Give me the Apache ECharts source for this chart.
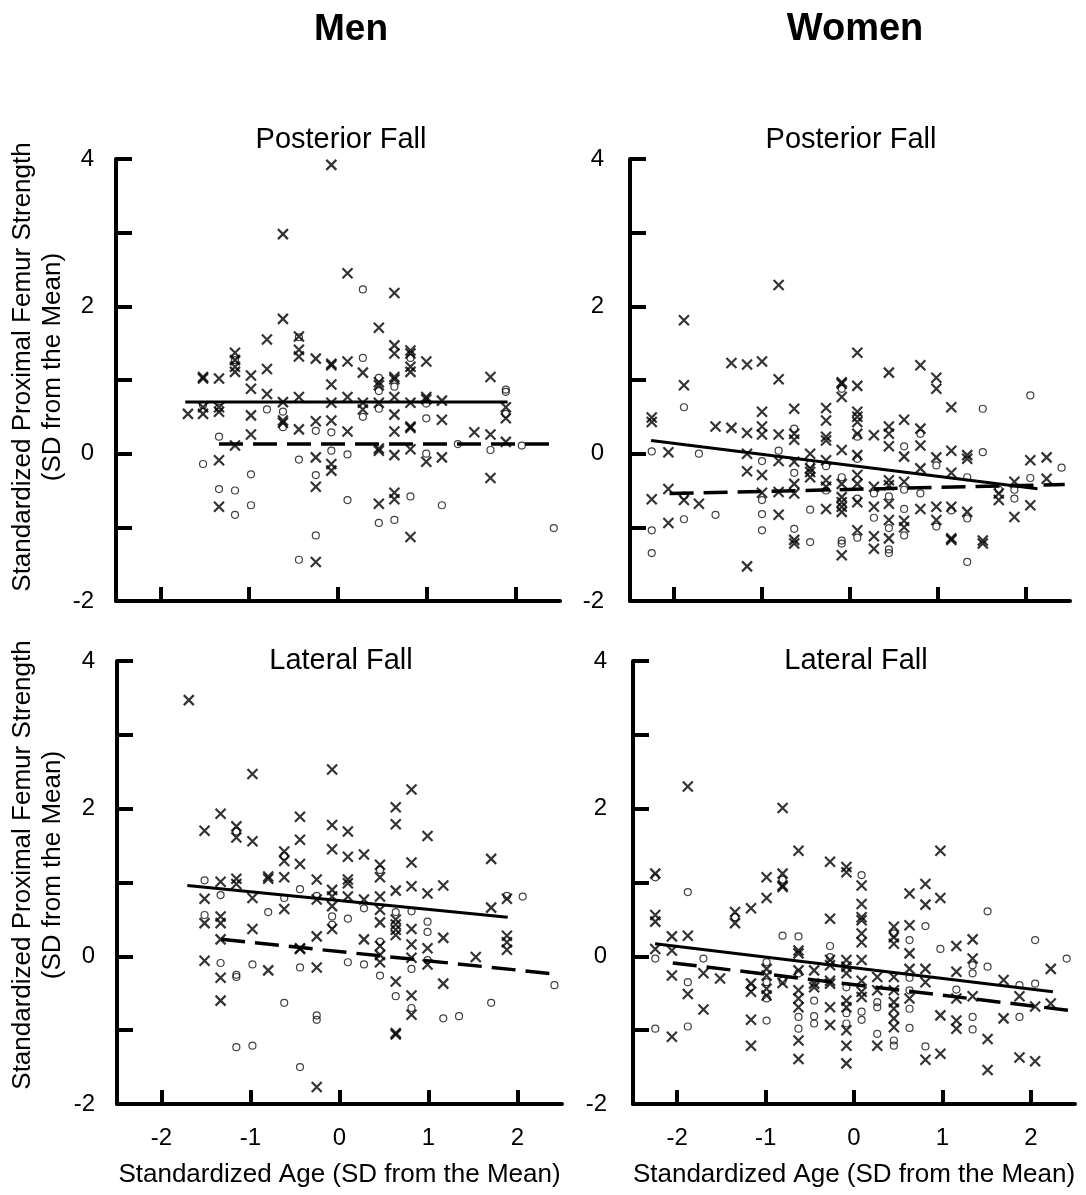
<!DOCTYPE html>
<html>
<head>
<meta charset="utf-8">
<script src="https://cdn.jsdelivr.net/npm/echarts@6/dist/echarts.min.js"></script>
<style>
  html, body { margin: 0; padding: 0; background: #fff; }
  #chart { width: 1086px; height: 1195px; }
</style>
</head>
<body>
<div id="chart"></div>
<script>
// ticks / labels
var xTicks = [-2, -1, 0, 1, 2]
var yTicks = [-2, -1, 0, 1, 2, 3, 4]
var yLabels = [-2, 0, 2, 4]

// points, one entry per age column: [x, [y, y, ...]]
var menPostCross = [
  [-1.69, [0.54]],
  [-1.52, [1.04, 1.02, 0.63, 0.54]],
  [-1.34, [1.02, 0.63, 0.57, -0.09, -0.72]],
  [-1.16, [1.37, 1.27, 1.18, 1.11, 0.11]],
  [-0.98, [1.06, 0.88, 0.52, 0.26]],
  [-0.80, [1.55, 1.15, 0.81]],
  [-0.62, [2.98, 1.83, 0.70, 0.45, 0.42]],
  [-0.44, [1.59, 1.41, 1.32, 0.77, 0.33]],
  [-0.25, [1.29, 0.44, -0.05, -0.45, -1.47]],
  [-0.075, [3.92, 1.22, 1.20, 0.94, 0.69, 0.45, -0.14, -0.23]],
  [0.107, [2.45, 1.25, 0.77, 0.30]],
  [0.28, [1.10, 0.69, 0.60]],
  [0.46, [1.71, 0.97, 0.93, 0.69, 0.07, 0.04, -0.68]],
  [0.635, [2.18, 1.47, 1.36, 1.04, 1.01, 0.77, 0.53, 0.30, -0.02, -0.53, -0.62]],
  [0.816, [1.40, 1.36, 1.18, 1.11, 0.69, 0.37, 0.35, 0.06, -1.13]],
  [0.994, [1.25, 0.77, 0.74, -0.11]],
  [1.17, [0.72, 0.46, -0.05]],
  [1.535, [0.29]],
  [1.717, [1.04, 0.26, -0.33]],
  [1.89, [0.63, 0.48, 0.16]]
]
var menPostCircle = [
  [-1.52, [-0.14, 0.66]],
  [-1.34, [0.23, -0.48, 0.62]],
  [-1.16, [-0.50, -0.83, 1.27]],
  [-0.98, [-0.28, -0.70]],
  [-0.80, [0.60]],
  [-0.62, [0.57, 0.36]],
  [-0.44, [-0.08, -1.44, 1.58]],
  [-0.25, [0.31, -0.29, -1.11]],
  [-0.075, [0.29, 0.04]],
  [0.107, [-0.01, -0.63]],
  [0.28, [2.23, 1.30, 0.50]],
  [0.46, [1.03, 0.85, 0.61, -0.94]],
  [0.635, [0.91, -0.90]],
  [0.816, [1.30, -0.58]],
  [0.994, [0.68, 0.48, 0.0]],
  [1.17, [-0.70]],
  [1.35, [0.13]],
  [1.717, [0.05]],
  [1.89, [0.87, 0.84, 0.54]],
  [2.07, [0.11]],
  [2.43, [-1.01]]
]
var womenPostCross = [
  [-2.253, [0.49, 0.43, -0.62]],
  [-2.064, [0.02, -0.48, -0.94]],
  [-1.887, [1.81, 0.93, -0.63]],
  [-1.717, [-0.68]],
  [-1.528, [0.37]],
  [-1.347, [1.23, 0.35]],
  [-1.170, [1.21, 0.28, 0.0, -0.24, -1.53]],
  [-1.0, [1.25, 0.57, 0.37, 0.26, -0.29, -0.53]],
  [-0.811, [2.29, 1.01, 0.26, -0.10, -0.52, -0.83]],
  [-0.634, [0.61, 0.27, 0.19, -0.11, -0.41, -0.54, -1.17, -1.22]],
  [-0.453, [0.0, -0.20, -0.25, -0.32]],
  [-0.272, [0.62, 0.45, 0.23, 0.18, -0.09, -0.36, -0.45, -0.75]],
  [-0.094, [0.97, 0.95, 0.77, 0.05, -0.41, -0.59, -0.66, -0.72, -0.79, -1.38]],
  [0.083, [1.37, 0.92, 0.57, 0.50, 0.43, 0.27, -0.02, -0.29, -0.41, -0.66, -1.04]],
  [0.272, [0.25, -0.45, -0.72, -1.12, -1.29]],
  [0.442, [1.10, 0.37, 0.27, 0.10, -0.36, -0.43, -0.68, -0.90, -1.15]],
  [0.615, [0.46, -0.04, -0.38, -0.91, -1.0]],
  [0.80, [1.20, 0.34, 0.11, -0.20, -0.75]],
  [0.981, [1.03, 0.88, -0.05, -0.72, -0.90]],
  [1.151, [0.63, 0.04, -0.26, -0.72, -1.15, -1.17]],
  [1.332, [-0.02, -0.07, -0.79]],
  [1.509, [-1.18, -1.22]],
  [1.691, [-0.54, -0.63]],
  [1.868, [-0.38, -0.86]],
  [2.049, [-0.09, -0.70]],
  [2.234, [-0.05, -0.34]]
]
var womenPostCircle = [
  [-2.253, [0.03, -1.04, -1.35]],
  [-1.887, [0.63, -0.57, -0.89]],
  [-1.717, [0.0]],
  [-1.528, [-0.83]],
  [-1.0, [-0.10, -0.63, -0.82, -1.04]],
  [-0.811, [0.04]],
  [-0.634, [0.34, -0.26, -1.02]],
  [-0.453, [-0.14, -0.76, -1.20]],
  [-0.272, [-0.17, -0.50]],
  [-0.094, [0.88, -0.32, -1.18, -1.22]],
  [0.083, [0.23, -0.07, -0.61, -1.14]],
  [0.272, [-0.54, -0.87]],
  [0.442, [-0.58, -1.01, -1.30, -1.35]],
  [0.615, [0.10, -0.49, -0.75, -1.11]],
  [0.80, [0.27, -0.54]],
  [0.981, [-0.16, -0.99]],
  [1.151, [-0.77]],
  [1.332, [-0.32, -0.88, -1.47]],
  [1.509, [0.61, 0.02]],
  [1.691, [-0.49]],
  [1.868, [-0.49, -0.61]],
  [2.049, [0.79, -0.33]],
  [2.404, [-0.19]]
]
var menLatCross = [
  [-1.693, [3.47]],
  [-1.516, [1.70, 0.78, 0.45, -0.06]],
  [-1.336, [1.93, 1.01, 0.54, 0.45, 0.23, -0.29, -0.60]],
  [-1.159, [1.76, 1.61, 1.05, 0.98]],
  [-0.978, [2.47, 1.56, 0.79, 0.37]],
  [-0.801, [1.08, 1.05, -0.19]],
  [-0.621, [1.42, 1.29, 1.07, 0.64]],
  [-0.444, [1.89, 1.58, 1.25, 0.11, 0.10]],
  [-0.256, [1.04, 0.77, 0.27, -0.15, -1.77]],
  [-0.083, [2.53, 1.78, 1.45, 0.90, 0.81, 0.68, 0.37]],
  [0.094, [1.69, 1.35, 1.04, 0.99, 0.81]],
  [0.275, [1.38, 0.77, 0.23]],
  [0.455, [1.24, 1.07, 0.81, 0.63, 0.46, 0.14, 0.02, -0.08]],
  [0.632, [2.02, 1.79, 0.89, 0.50, 0.43, 0.36, 0.29, -0.34, -1.04, -1.06]],
  [0.809, [2.26, 1.27, 0.95, 0.37, 0.16, -0.02, -0.53, -0.79]],
  [0.989, [1.63, 0.85, 0.11, -0.11]],
  [1.166, [0.96, 0.25, -0.37]],
  [1.531, [-0.01]],
  [1.704, [1.32, 0.66]],
  [1.881, [0.78, 0.28, 0.19, 0.09]]
]
var menLatCircle = [
  [-1.516, [1.03, 0.56]],
  [-1.336, [0.83, -0.09]],
  [-1.159, [-0.25, -0.28, -1.23, 1.69]],
  [-0.978, [-0.11, -1.21]],
  [-0.801, [0.60]],
  [-0.621, [1.36, 0.79, -0.63]],
  [-0.444, [0.91, -0.15, -1.50]],
  [-0.256, [0.82, -0.80, -0.86]],
  [-0.083, [0.54, 0.43]],
  [0.094, [0.51, -0.08]],
  [0.275, [0.65, -0.11]],
  [0.455, [1.17, 0.20, -0.26]],
  [0.632, [0.60, -0.54]],
  [0.809, [0.61, -0.17, -0.70]],
  [0.989, [0.47, 0.33, -0.05]],
  [1.166, [-0.84]],
  [1.343, [-0.81]],
  [1.704, [-0.63]],
  [1.881, [0.82]],
  [2.058, [0.81]],
  [2.415, [-0.39]]
]
var womenLatCross = [
  [-2.248, [1.12, 0.56, 0.47, 0.10]],
  [-2.060, [0.27, 0.08, -0.26, -1.09]],
  [-1.880, [2.30, 0.28, -0.51]],
  [-1.703, [-0.23, -0.72]],
  [-1.515, [-0.30]],
  [-1.346, [0.60, 0.45]],
  [-1.165, [0.65, -0.37, -0.48, -0.86, -1.21]],
  [-0.989, [1.07, 0.79, -0.17, -0.26, -0.44, -0.53]],
  [-0.808, [2.01, 1.12, 0.96, 0.94, -0.36]],
  [-0.628, [1.43, 0.08, 0.04, -0.19, -0.46, -0.57, -0.69, -1.14, -1.39]],
  [-0.451, [-0.19, -0.37, -0.42]],
  [-0.271, [1.28, 0.51, -0.05, -0.12, -0.33, -0.37, -0.69, -0.93]],
  [-0.086, [1.21, 1.14, -0.05, -0.14, -0.23, -0.60, -0.69, -1.00, -1.21, -1.45]],
  [0.086, [0.96, 0.71, 0.53, 0.49, 0.31, 0.19, -0.05, -0.33, -0.48, -0.55]],
  [0.263, [-0.28, -0.46, -1.21]],
  [0.451, [0.40, 0.26, 0.17, -0.28, -0.46, -0.62, -0.71, -0.84, -0.96]],
  [0.628, [0.85, 0.42, 0.04, -0.17, -0.57]],
  [0.808, [0.98, 0.70, -0.17, -0.35, -1.40]],
  [0.977, [1.43, 0.79, -0.80, -1.32]],
  [1.158, [0.14, -0.21, -0.57, -0.87, -0.98]],
  [1.342, [0.23, -0.03, -0.54]],
  [1.511, [-1.12, -1.54]],
  [1.692, [-0.32, -0.84]],
  [1.872, [-0.54, -1.37]],
  [2.049, [-0.68, -1.42]],
  [2.226, [-0.17, -0.64]]
]
var womenLatCircle = [
  [-2.248, [1.07, -0.03, -0.98]],
  [-1.880, [0.87, -0.35, -0.95]],
  [-1.703, [-0.03]],
  [-1.346, [0.53]],
  [-1.165, [-0.42]],
  [-0.989, [-0.08, -0.35, -0.57, -0.87]],
  [-0.808, [1.04, 0.28, -0.33]],
  [-0.628, [0.27, -0.23, -0.82, -0.98]],
  [-0.451, [-0.60, -0.81, -0.91]],
  [-0.271, [0.14, -0.01]],
  [-0.086, [-0.42, -0.77, -0.91]],
  [0.086, [1.10, -0.75, -0.86]],
  [0.263, [-0.62, -0.69, -1.05]],
  [0.451, [0.31, -1.14, -1.21]],
  [0.628, [0.22, -0.29, -0.46, -0.71, -0.97]],
  [0.808, [0.41, -1.22]],
  [0.977, [0.10]],
  [1.158, [-0.45]],
  [1.342, [-0.12, -0.23, -0.82, -0.99]],
  [1.511, [0.61, -0.14]],
  [1.872, [-0.39, -0.82]],
  [2.049, [0.22, -0.37]],
  [2.406, [-0.03]]
]

// fitted lines (end points)
var menPostSolid = [[-1.72, 0.70], [1.91, 0.70]]
var menPostDash = [[-1.34, 0.13], [2.46, 0.13]]
var womenPostSolid = [[-2.26, 0.18], [2.13, -0.475]]
var womenPostDash = [[-2.05, -0.54], [2.44, -0.42]]
var menLatSolid = [[-1.71, 0.96], [1.89, 0.53]]
var menLatDash = [[-1.33, 0.23], [2.43, -0.24]]
var womenLatSolid = [[-2.25, 0.17], [2.25, -0.48]]
var womenLatDash = [[-2.05, -0.09], [2.42, -0.73]]

var font = 'Liberation Sans, Arial, sans-serif'
// stroked x marker
var crossPath = 'path://M0,0L10,10M10,0L0,10'

var panels = [
  { grid: { left: 116, top: 159, width: 444, height: 442 }, cross: menPostCross, circle: menPostCircle, solid: menPostSolid, dash: menPostDash, bottom: false, labelMargin: 22 },
  { grid: { left: 630, top: 159, width: 440, height: 442 }, cross: womenPostCross, circle: womenPostCircle, solid: womenPostSolid, dash: womenPostDash, bottom: false, labelMargin: 26 },
  { grid: { left: 117, top: 661, width: 445, height: 443 }, cross: menLatCross, circle: menLatCircle, solid: menLatSolid, dash: menLatDash, bottom: true, labelMargin: 22 },
  { grid: { left: 633, top: 661, width: 442, height: 443 }, cross: womenLatCross, circle: womenLatCircle, solid: womenLatSolid, dash: womenLatDash, bottom: true, labelMargin: 26 }
]

function flatten(cols) {
  var out = []
  cols.forEach(function (c) {
    c[1].forEach(function (y) { out.push([c[0], y]) })
  })
  return out
}

var grids = [], xAxes = [], yAxes = [], series = []
panels.forEach(function (p, i) {
  grids.push(p.grid)
  xAxes.push({
    gridIndex: i,
    type: 'value',
    min: -2.5,
    max: 2.5,
    interval: 0.5,
    axisLine: { onZero: false, lineStyle: { color: '#000', width: 4 } },
    axisTick: { inside: true, length: 14, customValues: xTicks, lineStyle: { color: '#000', width: 4 } },
    axisLabel: { show: p.bottom, customValues: xTicks, margin: 22, color: '#000', fontSize: 24, fontFamily: font },
    splitLine: { show: false },
    name: p.bottom ? 'Standardized Age (SD from the Mean)' : '',
    nameLocation: 'middle',
    nameGap: 58,
    nameTextStyle: { color: '#000', fontSize: 26, fontFamily: font }
  })
  yAxes.push({
    gridIndex: i,
    type: 'value',
    min: -2,
    max: 4,
    interval: 1,
    axisLine: { show: true, onZero: false, lineStyle: { color: '#000', width: 4 } },
    axisTick: { show: true, inside: true, length: 16, customValues: yTicks, lineStyle: { color: '#000', width: 4 } },
    axisLabel: { customValues: yLabels, margin: p.labelMargin, color: '#000', fontSize: 24, fontFamily: font },
    splitLine: { show: false }
  })
  series.push({
    type: 'scatter',
    xAxisIndex: i,
    yAxisIndex: i,
    symbol: 'circle',
    symbolSize: 7,
    itemStyle: { color: 'rgba(255,255,255,0)', borderColor: '#111', borderWidth: 1.2 },
    data: flatten(p.circle)
  })
  series.push({
    type: 'scatter',
    xAxisIndex: i,
    yAxisIndex: i,
    symbol: crossPath,
    symbolSize: 10,
    itemStyle: { color: 'rgba(0,0,0,0)', borderColor: '#000', borderWidth: 2.2 },
    data: flatten(p.cross)
  })
  series.push({
    type: 'line',
    xAxisIndex: i,
    yAxisIndex: i,
    showSymbol: false,
    lineStyle: { color: '#000', width: 3 },
    data: p.solid
  })
  series.push({
    type: 'line',
    xAxisIndex: i,
    yAxisIndex: i,
    showSymbol: false,
    lineStyle: { color: '#000', width: 3.5, type: [24, 10] },
    data: p.dash
  })
})

function panelTitle(text, x, y, size, bold) {
  return {
    text: text,
    left: x,
    top: y,
    padding: 0,
    textAlign: 'center',
    textStyle: { color: '#000', fontSize: size, fontWeight: bold ? 'bold' : 'normal', fontFamily: font }
  }
}

function yName(cy) {
  return {
    type: 'text',
    x: 38,
    y: cy,
    rotation: Math.PI / 2,
    style: {
      text: 'Standardized Proximal Femur Strength\n(SD from the Mean)',
      fill: '#000',
      font: '26px ' + font,
      lineHeight: 30,
      align: 'center',
      verticalAlign: 'middle'
    }
  }
}

var chart = echarts.init(document.getElementById('chart'))
chart.setOption({
  animation: false,
  backgroundColor: '#fff',
  title: [
    panelTitle('Men', 351, 11, 37, true),
    panelTitle('Women', 855, 11, 38, true),
    panelTitle('Posterior Fall', 341, 125, 29, false),
    panelTitle('Posterior Fall', 851, 125, 29, false),
    panelTitle('Lateral Fall', 341, 646, 29, false),
    panelTitle('Lateral Fall', 856, 646, 29, false)
  ],
  graphic: [yName(367), yName(865)],
  grid: grids,
  xAxis: xAxes,
  yAxis: yAxes,
  series: series
})
</script>
</body>
</html>
